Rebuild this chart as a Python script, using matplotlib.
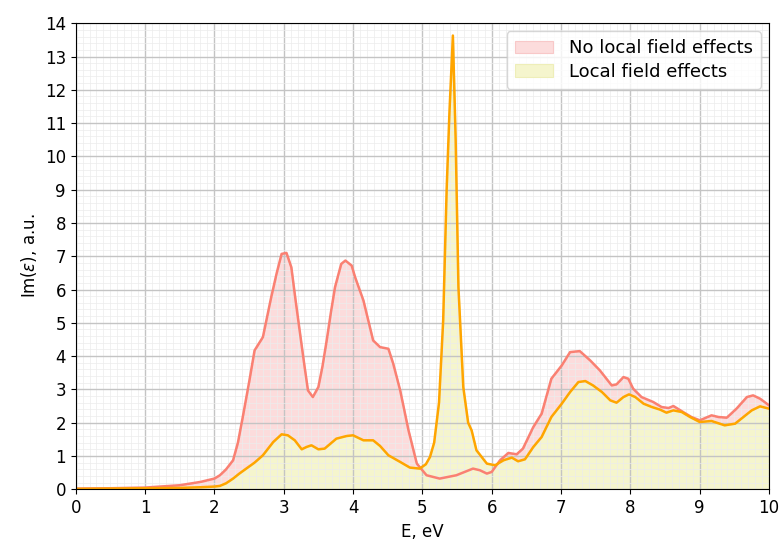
import numpy as np
import matplotlib.pyplot as plt
from matplotlib.ticker import MultipleLocator

# Im(eps) without local field effects
e_nolfe = [0.0, 0.5, 1.0, 1.5, 1.8, 2.0, 2.08, 2.17, 2.27, 2.34, 2.41, 2.5, 2.58, 2.70, 2.82,
           2.90, 2.97, 3.04, 3.11, 3.17, 3.23, 3.30, 3.35, 3.42, 3.50, 3.56, 3.62, 3.68, 3.74,
           3.83, 3.89, 3.98, 4.03, 4.15, 4.29, 4.39, 4.51, 4.58, 4.68, 4.80, 4.92, 5.06, 5.25,
           5.49, 5.73, 5.83, 5.93, 6.0, 6.12, 6.24, 6.36, 6.45, 6.60, 6.72, 6.86, 7.01, 7.13,
           7.27, 7.42, 7.56, 7.73, 7.80, 7.90, 7.97, 8.04, 8.16, 8.33, 8.45, 8.55, 8.62, 8.76,
           8.88, 9.0, 9.17, 9.27, 9.39, 9.53, 9.68, 9.77, 9.87, 10.0]
im_nolfe = [0.02, 0.03, 0.05, 0.12, 0.22, 0.32, 0.42, 0.6, 0.87, 1.4, 2.17, 3.2, 4.17, 4.57, 5.77,
            6.5, 7.07, 7.1, 6.67, 5.7, 4.77, 3.7, 2.97, 2.77, 3.07, 3.7, 4.47, 5.3, 6.07,
            6.77, 6.87, 6.72, 6.37, 5.67, 4.47, 4.27, 4.22, 3.77, 2.97, 1.77, 0.77, 0.42, 0.32,
            0.42, 0.62, 0.57, 0.47, 0.52, 0.87, 1.09, 1.05, 1.22, 1.87, 2.27, 3.32, 3.72, 4.12,
            4.15, 3.87, 3.57, 3.12, 3.15, 3.37, 3.32, 3.02, 2.77, 2.62, 2.47, 2.44, 2.5, 2.32,
            2.17, 2.07, 2.22, 2.17, 2.15, 2.42, 2.77, 2.82, 2.72, 2.52]

# Im(eps) with local field effects
e_lfe = [0.0, 0.5, 1.0, 1.5, 1.8, 2.0, 2.08, 2.17, 2.27, 2.36, 2.46, 2.58, 2.70, 2.85, 2.97, 3.06,
         3.16, 3.26, 3.33, 3.40, 3.50, 3.59, 3.76, 3.91, 4.0, 4.15, 4.29, 4.39, 4.51, 4.68,
         4.82, 4.96, 5.05, 5.11, 5.17, 5.24, 5.30, 5.35, 5.39, 5.44, 5.48, 5.52, 5.59, 5.66,
         5.71, 5.78, 5.93, 6.05, 6.17, 6.29, 6.38, 6.48, 6.60, 6.72, 6.86, 7.01, 7.13, 7.25,
         7.35, 7.46, 7.59, 7.71, 7.80, 7.90, 7.98, 8.07, 8.19, 8.31, 8.43, 8.52, 8.62, 8.74,
         8.86, 9.0, 9.17, 9.36, 9.51, 9.63, 9.75, 9.87, 10.0]
im_lfe = [0.01, 0.02, 0.03, 0.04, 0.06, 0.08, 0.1, 0.18, 0.32, 0.47, 0.62, 0.8, 1.02, 1.42, 1.65, 1.62,
          1.47, 1.2, 1.27, 1.32, 1.2, 1.22, 1.52, 1.6, 1.62, 1.47, 1.47, 1.3, 1.02, 0.82,
          0.65, 0.62, 0.75, 0.97, 1.4, 2.6, 5.07, 9.0, 11.3, 13.63, 10.5, 6.07, 3.07, 2.0,
          1.77, 1.17, 0.77, 0.72, 0.87, 0.95, 0.84, 0.9, 1.27, 1.57, 2.17, 2.57, 2.92, 3.22,
          3.25, 3.12, 2.92, 2.67, 2.6, 2.77, 2.85, 2.77, 2.57, 2.47, 2.39, 2.3, 2.37, 2.32,
          2.17, 2.02, 2.05, 1.92, 1.97, 2.17, 2.37, 2.49, 2.42]

fig, ax = plt.subplots(figsize=(7.8, 5.4), dpi=100)
fig.subplots_adjust(left=0.097, right=0.986, bottom=0.094, top=0.957)

ax.fill_between(e_nolfe, im_nolfe, color='#fcdcdc', edgecolor='#f8c8c8', lw=0.8,
                label='No local field effects')
ax.fill_between(e_lfe, im_lfe, color='#f5f5cd', edgecolor='#eeeeb8', lw=0.8,
                label='Local field effects')
ax.plot(e_nolfe, im_nolfe, color='salmon', lw=1.8)
ax.plot(e_lfe, im_lfe, color='orange', lw=1.8)

ax.set_xlim(0, 10)
ax.set_ylim(0, 14)
ax.xaxis.set_major_locator(MultipleLocator(1))
ax.yaxis.set_major_locator(MultipleLocator(1))
ax.xaxis.set_minor_locator(MultipleLocator(0.1))
ax.yaxis.set_minor_locator(MultipleLocator(0.2))
ax.tick_params(which='minor', length=0)
ax.grid(which='major', color='#c4c4c4', lw=1.0)
ax.grid(which='minor', color='#ececec', lw=0.5)
ax.tick_params(labelsize=12)

ax.set_xlabel('E, eV', fontsize=12)
ax.set_ylabel(r'Im($\varepsilon$), a.u.', fontsize=12)
ax.legend(loc='upper right', fontsize=13, labelspacing=0.3, borderpad=0.45,
          handlelength=2.1, handletextpad=0.9, borderaxespad=0.45)

fig.savefig('out.png', dpi=100)
